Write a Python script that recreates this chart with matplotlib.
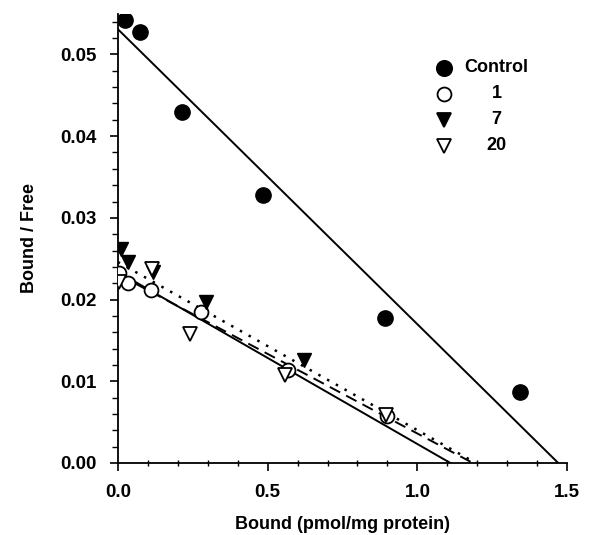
import numpy as np
import matplotlib.pyplot as plt
from matplotlib.ticker import MultipleLocator

plt.rcParams['font.family'] = ['Liberation Sans', 'DejaVu Sans']
plt.rcParams['font.weight'] = 'bold'

# Scatchard data
ctrl_x = [0.023, 0.073, 0.213, 0.483, 0.893, 1.343]
ctrl_y = [0.0542, 0.0527, 0.0429, 0.0328, 0.0177, 0.0087]

d1_x = [0.003, 0.034, 0.112, 0.279, 0.568, 0.90]
d1_y = [0.0232, 0.0220, 0.0212, 0.0185, 0.0114, 0.0058]

d7_x = [0.012, 0.034, 0.118, 0.296, 0.623]
d7_y = [0.0262, 0.0246, 0.0234, 0.0197, 0.0126]

d20_x = [0.005, 0.115, 0.240, 0.557, 0.895]
d20_y = [0.0222, 0.0238, 0.0158, 0.0108, 0.0059]

# fitted lines: (y intercept, x intercept)
ctrl_fit = (0.0531, 1.47)
d1_fit = (0.0234, 1.11)
d7_fit = (0.0246, 1.195)
d20_fit = (0.0231, 1.185)

labels = ['Control', '1', '7', '20']

fig = plt.figure(figsize=(5.89, 5.35), dpi=100)
ax = fig.add_axes([0.200, 0.1346, 0.763, 0.84])

def fit_line(fit, ls, lw=1.4):
    b, xi = fit
    ax.plot([0, xi], [b, 0], color='black', lw=lw, ls=ls, zorder=2)

fit_line(ctrl_fit, '-')
fit_line(d1_fit, '-')
fit_line(d20_fit, (0, (6, 3.5)))
fit_line(d7_fit, (0, (1, 3)), lw=1.8)

ax.plot(ctrl_x, ctrl_y, 'o', ms=11, mfc='black', mec='black', ls='none', zorder=3)
ax.plot(d1_x, d1_y, 'o', ms=10, mfc='white', mec='black', mew=1.3, ls='none', zorder=3)
ax.plot(d7_x, d7_y, 'v', ms=10, mfc='black', mec='black', ls='none', zorder=4)
ax.plot(d20_x, d20_y, 'v', ms=10, mfc='white', mec='black', mew=1.3, ls='none', zorder=4)

# legend drawn by hand so the labels are centred like the original
styles = [('o', 'black', 11), ('o', 'white', 10), ('v', 'black', 10), ('v', 'white', 10)]
for i, (lab, (m, fc, s)) in enumerate(zip(labels, styles)):
    yy = 0.880 - i * 0.058
    ax.plot([0.725], [yy], m, ms=s, mfc=fc, mec='black', mew=1.3,
            transform=ax.transAxes, clip_on=False)
    ax.text(0.843, yy, lab, transform=ax.transAxes, ha='center', va='center',
            fontsize=13, fontweight='bold')

ax.set_xlim(0, 1.5)
ax.set_ylim(0, 0.055)
ax.spines['top'].set_visible(False)
ax.spines['right'].set_visible(False)
ax.spines['left'].set_linewidth(1.3)
ax.spines['bottom'].set_linewidth(1.3)

ax.xaxis.set_major_locator(MultipleLocator(0.5))
ax.xaxis.set_minor_locator(MultipleLocator(0.1))
ax.yaxis.set_major_locator(MultipleLocator(0.01))
ax.yaxis.set_minor_locator(MultipleLocator(0.002))
ax.set_xticks([0, 0.5, 1.0, 1.5])
ax.set_xticklabels(['0.0', '0.5', '1.0', '1.5'])
ax.set_yticks([0, 0.01, 0.02, 0.03, 0.04, 0.05])
ax.set_yticklabels(['0.00', '0.01', '0.02', '0.03', '0.04', '0.05'])

ax.tick_params(axis='x', which='major', direction='out', length=6, width=1.2, labelsize=13.5, pad=9)
ax.tick_params(axis='x', which='minor', direction='inout', length=5, width=1.0)
ax.tick_params(axis='y', which='major', direction='out', length=6, width=1.2, labelsize=13.5, pad=9)
ax.tick_params(axis='y', which='minor', direction='out', length=4, width=1.0)
for t in ax.get_xticklabels() + ax.get_yticklabels():
    t.set_fontweight('bold')

ax.set_xlabel('Bound (pmol/mg protein)', fontsize=13, fontweight='bold', labelpad=11)
ax.set_ylabel('Bound / Free', fontsize=13, fontweight='bold', labelpad=16)

fig.savefig('out.png', dpi=100)
